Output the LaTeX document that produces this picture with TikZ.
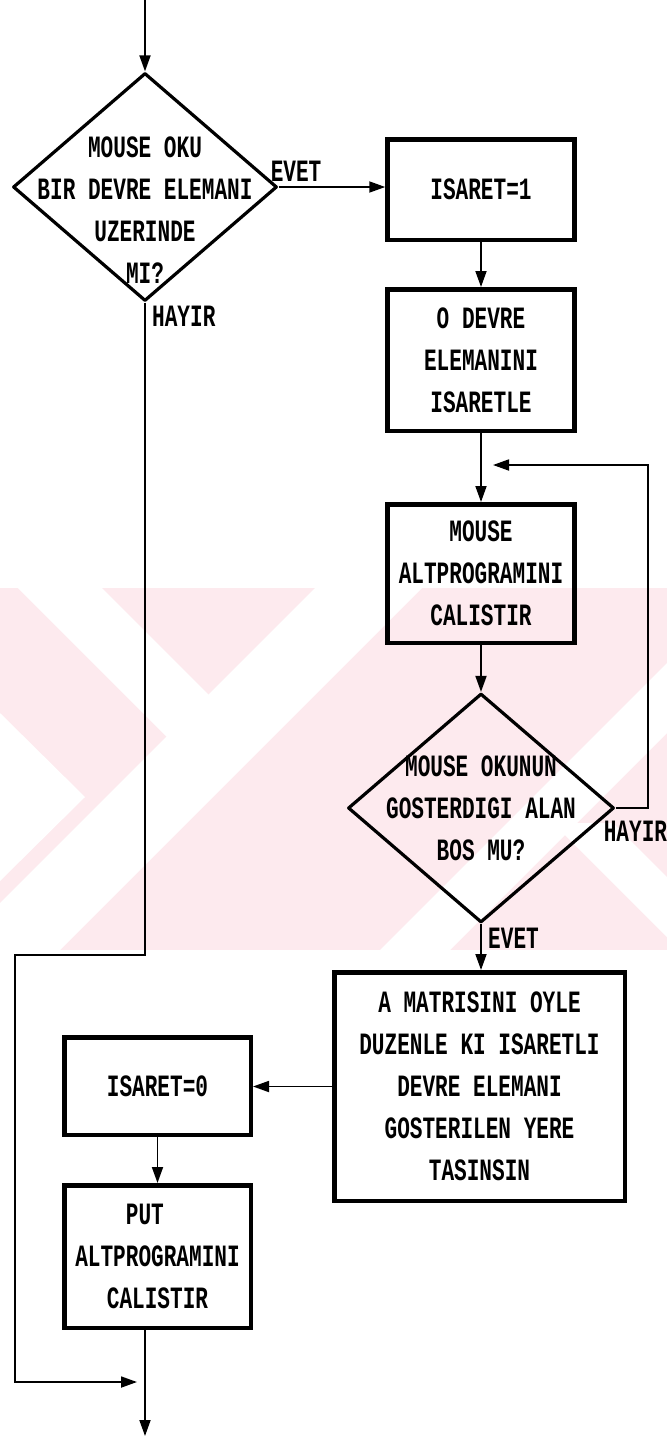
\documentclass[tikz,border=0pt]{standalone}
\usepackage{fontspec}
\newfontfamily\dosfont{Liberation Mono}[FakeStretch=0.68]
\usetikzlibrary{arrows.meta,shapes.geometric}
\definecolor{wmpink}{RGB}{253,234,238}
\newlength{\BoxWidth}
\newlength{\BoxRule}
\setlength{\BoxWidth}{187pt}
\setlength{\BoxRule}{4.5pt}
\newcommand{\dostext}{\dosfont\bfseries\fontsize{31}{42}\selectfont}
\tikzset{
  proc box/.style={draw, line width=\BoxRule, minimum width=\BoxWidth, inner sep=0pt, align=center, font=\dostext},
  dec node/.style={draw, diamond, line width=3.2pt, inner sep=0pt, line join=round},
  dec text/.style={align=center, font=\dostext, inner sep=0pt},
  answer/.style={font=\dostext, inner sep=0pt},
}

\begin{document}
\begin{tikzpicture}[
    x=1pt, y=-1pt,
    flow/.style={-{Triangle[length=16pt,width=11pt]}, line width=1.8pt}
  ]
  \useasboundingbox (0,0) rectangle (667,1438);

  % watermark band
  \begin{scope}
    \clip (0,588) rectangle (667,950);
    \fill[wmpink] (0,588) rectangle (667,950);
    \fill[white] (18,588) -- (102,588) -- (214,700) -- (172,742) -- cycle;
    \fill[white] (315,588) -- (422,588) -- (60,950) -- (0,950) -- (0,903) -- cycle;
    \fill[white] (0,713) -- (85,797) -- (0,881) -- cycle;
    \fill[white] (667,663) -- (667,733) -- (450,950) -- (380,950) -- cycle;
    \fill[white] (553,823) -- (613,823) -- (667,877) -- (667,937) -- cycle;
  \end{scope}

  % first question
  \coordinate (start) at (145,0);
  \node[dec node, minimum width=264pt, minimum height=228pt] (d1) at (145,187) {};
  \node[dec text] (d1 text) at ([yshift=-23pt]d1.center)
    {MOUSE OKU\\BIR DEVRE ELEMANI\\UZERINDE\\MI?};

  % right column
  \node[proc box, minimum height=100.5pt] (mark) at (481,189.5) {ISARET=1};
  \node[proc box, minimum height=141.5pt] (mark elem) at (481,360)
    {O DEVRE\\ELEMANINI\\ISARETLE};
  \node[proc box, minimum height=138.5pt] (mouse sub) at (481,573.5)
    {MOUSE\\ALTPROGRAMINI\\CALISTIR};
  \node[dec node, minimum width=266pt, minimum height=229pt] (d2) at (481,808) {};
  \node[dec text] (d2 text) at (d2.center)
    {MOUSE OKUNUN\\GOSTERDIGI ALAN\\BOS MU?};
  \node[proc box, minimum width=290.5pt, minimum height=228.5pt] (move) at (479.5,1086.5)
    {A MATRISINI OYLE\\DUZENLE KI ISARETLI\\DEVRE ELEMANI\\GOSTERILEN YERE\\TASINSIN};

  % left column
  \node[proc box, minimum width=186.5pt, minimum height=97.5pt] (unmark) at (157.5,1086) {ISARET=0};
  \node[proc box, minimum width=186.5pt, minimum height=142.5pt] (put sub) at (157.5,1256.5)
    {PUT\hphantom{XX}\\ALTPROGRAMINI\\CALISTIR};

  % answers
  \node[answer, anchor=south west] (yes1) at ([xshift=-8pt,yshift=5pt]d1.east) {EVET};
  \node[answer, anchor=north west] (no1) at ([xshift=7pt,yshift=-3pt]d1.south) {HAYIR};
  \node[answer, anchor=north west] (no2) at ([xshift=-12pt,yshift=-13pt]d2.east) {HAYIR};
  \node[answer, anchor=north west] (yes2) at ([xshift=7pt,yshift=-4pt]d2.south) {EVET};

  \coordinate (loop end) at (493,465);
  \coordinate (jog) at (15,955);
  \coordinate (join) at (137,1382);
  \coordinate (stop) at (145,1436);

  % connectors
  \draw[flow] (start) -- (d1.north);
  \draw[flow] (d1.east) -- (d1.east -| mark.west);
  \draw[flow] (mark.south) -- (mark elem.north);
  \draw[flow] (mark elem.south) -- (mouse sub.north);
  \draw[flow] (mouse sub.south) -- (d2.north);
  \draw[flow] (d2.east) -- ++(32,0) |- (loop end);
  \draw[flow] (d2.south) -- (d2.south |- move.north);
  \draw[flow] (move.west) -- (move.west -| unmark.east);
  \draw[flow] (unmark.south) -- (put sub.north);
  \draw[flow] (d1.south) |- (jog) |- (join);
  \draw[flow] (stop |- put sub.south) -- (stop);
\end{tikzpicture}
\end{document}
